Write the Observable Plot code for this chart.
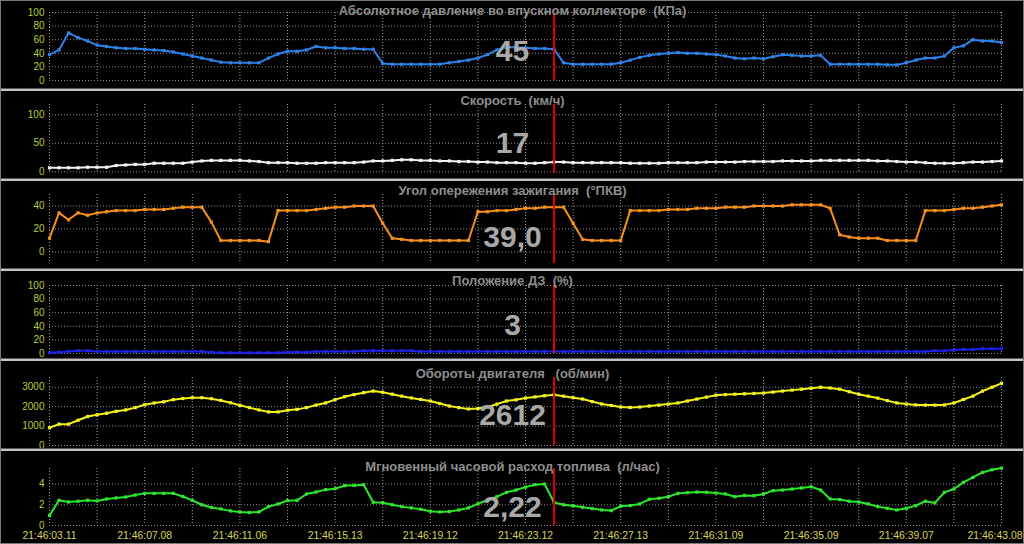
<!DOCTYPE html>
<html>
<head>
<meta charset="utf-8">
<script src="https://cdn.jsdelivr.net/npm/d3@7"></script>
<script src="https://cdn.jsdelivr.net/npm/@observablehq/plot@0.6"></script>
<style>
  html, body { margin: 0; padding: 0; background: #000; }
  #wrap { position: relative; width: 1024px; height: 544px; overflow: hidden; background: #000; }
  .panel { position: absolute; left: 0; width: 1024px; }
  .sep { position: absolute; left: 0; width: 1024px; height: 2px; background: #c4c4c4; border-top: 1px solid #5a5a5a; }
  .frame { position: absolute; left: 0; top: 0; width: 1022px; height: 542px; border: 1px solid #7a7a7a; pointer-events: none; }
</style>
</head>
<body>
<div id="wrap"></div>
<script>
// ---- data ----
const timeLabels = ["21:46:03.11","21:46:07.08","21:46:11.06","21:46:15.13","21:46:19.12","21:46:23.12","21:46:27.13","21:46:31.09","21:46:35.09","21:46:39.07","21:46:43.08"];
const timeTickIdx = [0,10,20,30,40,50,60,70,80,90,100];
const gridTickIdx = [0,5,10,15,20,25,30,35,40,45,50,55,60,65,70,75,80,85,90,95,100];
const cursorIndex = 53;

const titles = [
  "Абсолютное давление во впускном коллекторе  (КПа)",
  "Скорость  (км/ч)",
  "Угол опережения зажигания  (°ПКВ)",
  "Положение ДЗ  (%)",
  "Обороты двигателя   (об/мин)",
  "Мгновенный часовой расход топлива  (л/час)"
];
const currentValues = ["45", "17", "39,0", "3", "2612", "2,22"];

const pressure = [38,45,70,63,58,52,50,48,47,47,46,45,44,42,39,36,33,30,27,26,26,26,26,33,39,43,43,45,50,48,48,47,47,46,46,25,24,24,24,24,24,24,26,28,30,33,38,45,49,49,48,47,47,46,26,24,24,24,24,24,26,30,34,37,39,40,41,40,40,39,38,36,33,32,33,32,35,38,37,36,36,37,24,24,24,24,24,24,23,23,26,30,33,33,36,48,51,60,58,58,56];
const speed = [7,7,7,7,8,8,8,11,12,13,13,15,15,15,15,17,19,20,20,20,20,19,18,16,16,16,15,15,15,16,16,16,16,17,19,19,20,21,21,20,20,19,19,18,18,17,17,16,16,16,15,15,16,17,17,16,16,16,16,16,16,15,15,15,15,16,16,16,16,17,17,17,17,18,18,18,18,19,19,19,19,20,20,20,20,20,20,19,19,18,17,17,16,15,15,15,16,17,17,18,19];
const ignition = [12,34,28,34,32,34,35,36,36,36,37,37,37,38,39,39,39,26,10,10,10,10,10,9,36,36,36,36,37,38,39,39,40,40,40,25,12,11,10,10,10,10,10,10,10,35,35,36,36,37,38,38,39,39,39,25,11,10,10,10,10,36,36,36,36,37,37,37,38,38,38,39,39,39,40,40,40,40,41,41,41,41,38,15,13,12,12,12,10,10,10,10,36,36,36,37,38,38,39,40,41];
const throttle = [1,2,3,4,4,3,3,3,3,3,3,3,3,3,3,3,3,2,1,1,1,1,1,1,1,2,2,2,3,3,3,3,3,4,4,4,4,4,4,3,3,3,3,3,3,3,3,3,3,3,3,3,3,3,3,3,3,3,3,3,3,3,3,3,3,3,3,3,3,3,3,3,3,3,3,3,3,3,3,3,3,3,3,3,3,3,3,3,3,3,3,3,3,4,4,5,6,6,7,7,7];
const rpm = [915,1100,1100,1300,1490,1580,1660,1760,1830,1950,2100,2190,2250,2360,2420,2460,2460,2410,2320,2200,2070,1950,1830,1730,1730,1810,1860,1950,2080,2190,2360,2510,2620,2720,2800,2740,2640,2540,2450,2370,2290,2160,2030,1950,1880,1900,1980,2130,2290,2350,2440,2500,2560,2612,2540,2460,2390,2260,2140,2060,1980,1960,1980,2030,2080,2130,2190,2290,2390,2490,2590,2620,2640,2660,2680,2700,2750,2800,2850,2900,2950,3000,2960,2900,2770,2640,2540,2440,2310,2190,2130,2090,2080,2080,2090,2190,2370,2540,2800,3000,3200];
const fuel = [0.96,2.43,2.27,2.34,2.43,2.37,2.56,2.66,2.75,2.94,3.1,3.1,3.1,3.1,2.8,2.43,2.0,1.73,1.6,1.41,1.31,1.25,1.31,1.82,2.08,2.4,2.43,3.04,3.23,3.46,3.55,3.85,3.87,3.94,2.24,2.2,2.0,1.82,1.7,1.57,1.38,1.31,1.34,1.5,1.7,2.08,2.46,2.78,3.2,3.42,3.7,3.94,4.0,2.22,2.0,1.9,1.76,1.63,1.5,1.44,1.86,1.92,2.08,2.53,2.62,2.78,3.1,3.17,3.23,3.2,3.14,3.04,2.78,2.9,2.88,3.04,3.36,3.42,3.52,3.62,3.74,3.42,2.56,2.5,2.34,2.27,2.08,1.82,1.66,1.5,1.66,1.92,2.34,2.18,3.2,3.52,4.16,4.64,5.12,5.38,5.54];

const yTicks = [
  [0,20,40,60,80,100],
  [0,50,100],
  [0,20,40],
  [0,20,40,60,80,100],
  [0,1000,2000,3000],
  [0,2,4]
];
const yDomains = [[0,100],[-3,118],[-10,50],[0,100],[0,3500],[0,5.5]];
const colors = ["#2f82e8","#f2f2f2","#f5901e","#1e22e6","#f2f21e","#2ee62e"];
const seriesList = [pressure, speed, ignition, throttle, rpm, fuel];

// layout (pixels)
const layout = [
  {top: 0,   h: 90, mt: 12, mb: 10, titleY: 10, valueY: 51},
  {top: 90,  h: 90, mt: 14, mb: 7,  titleY: 10, valueY: 53},
  {top: 180, h: 90, mt: 14, mb: 7,  titleY: 10, valueY: 57},
  {top: 270, h: 90, mt: 15, mb: 7,  titleY: 10, valueY: 55},
  {top: 360, h: 90, mt: 17, mb: 5,  titleY: 13, valueY: 55},
  {top: 450, h: 94, mt: 18, mb: 19, titleY: 16, valueY: 57}
];

const wrap = document.getElementById("wrap");
const font = "'Liberation Sans', Arial, Helvetica, sans-serif";
const timeColor = "#d6d65a";

seriesList.forEach((values, k) => {
  const L = layout[k];
  const data = values.map((v, i) => ({i, v}));
  const last = k === seriesList.length - 1;
  const marks = [
    Plot.gridX(gridTickIdx, {stroke: "#a0a0a0", strokeOpacity: 1, strokeDasharray: "1,2"}),
    Plot.gridY(yTicks[k], {stroke: "#8c8c8c", strokeOpacity: 1, strokeDasharray: "1,2"}),
    Plot.axisY(yTicks[k], {tickSize: 0, tickPadding: 5, fill: "#bccb3c", fontSize: 10, label: null, tickFormat: d => String(d)}),
    Plot.line(data, {x: "i", y: "v", stroke: colors[k], strokeWidth: 2}),
    Plot.dot(data, {x: "i", y: "v", fill: colors[k], symbol: "square", r: 1.8}),
    Plot.ruleX([cursorIndex], {stroke: "#e00000", strokeWidth: 2}),
    Plot.text([titles[k]], {text: d => d, frameAnchor: "top", dx: -13, dy: L.titleY - L.mt, lineAnchor: "middle", fill: "#8e8e8e", fontWeight: "bold", fontSize: 13}),
    Plot.text([currentValues[k]], {text: d => d, frameAnchor: "top", dx: -13, dy: L.valueY - L.mt, lineAnchor: "middle", fill: "#a8a8a8", fontWeight: "bold", fontSize: 30})
  ];
  if (last) {
    const n = timeTickIdx.length;
    marks.push(Plot.axisX(timeTickIdx.slice(0, n - 1), {tickSize: 0, tickPadding: 6, fill: timeColor, fontSize: 10.4, label: null, tickFormat: (d, i) => timeLabels[i]}));
    marks.push(Plot.text([timeLabels[n - 1]], {x: () => timeTickIdx[n - 1], frameAnchor: "bottom", dy: 6, dx: 21, lineAnchor: "top", textAnchor: "end", fill: timeColor, fontSize: 10.4, text: d => d}));
  }
  const chart = Plot.plot({
    width: 1024,
    height: L.h,
    marginLeft: 49,
    marginRight: 23,
    marginTop: L.mt,
    marginBottom: L.mb,
    style: {background: "transparent", fontFamily: font, overflow: "visible"},
    x: {domain: [0, 100], axis: last ? undefined : null, label: null},
    y: {domain: yDomains[k], axis: null, label: null},
    marks
  });
  const div = document.createElement("div");
  div.className = "panel";
  div.style.top = L.top + "px";
  div.style.height = L.h + "px";
  div.appendChild(chart);
  wrap.appendChild(div);
  if (k > 0) {
    const sep = document.createElement("div");
    sep.className = "sep";
    sep.style.top = (L.top - 2) + "px";
    wrap.appendChild(sep);
  }
});
const fr = document.createElement("div");
fr.className = "frame";
wrap.appendChild(fr);
</script>
</body>
</html>
